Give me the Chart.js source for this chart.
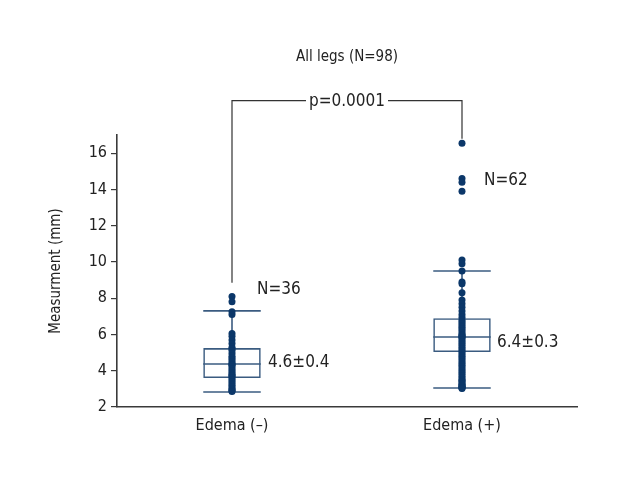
<!DOCTYPE html>
<html>
<head>
<meta charset="utf-8">
<script src="https://cdn.jsdelivr.net/npm/chart.js@4.4.0/dist/chart.umd.min.js"></script>
<style>
  html, body { margin: 0; padding: 0; background: #fff; }
</style>
</head>
<body>
<canvas id="c" width="620" height="480"></canvas>
<script>
// ===== Data =====
const categories = ['Edema (\u2013)', 'Edema (+)'];
const yTicks = [2, 4, 6, 8, 10, 12, 14, 16];

// box stats per category
const q1Values      = [3.6, 5.03];
const medianValues  = [4.37, 5.86];
const q3Values      = [5.25, 6.9];
const whiskerLow    = [2.83, 3.05];
const whiskerHigh   = [7.3, 9.5];

// individual measurements
const edemaNeg = [8.1, 7.8, 7.25, 7.1, 6.05, 5.9, 5.7, 5.5, 5.3, 5.2, 5.1, 4.95,
                  4.8, 4.7, 4.6, 4.5, 4.4, 4.35, 4.3, 4.2, 4.1, 4.0, 3.9, 3.8,
                  3.75, 3.7, 3.6, 3.5, 3.4, 3.3, 3.2, 3.1, 3.0, 2.95, 2.9, 2.85];
const edemaPos = [16.55, 14.6, 14.4, 13.9, 10.1, 9.9, 9.5, 8.9, 8.8, 8.3, 7.9, 7.7,
                  7.5, 7.3, 7.1, 6.95, 6.8, 6.7, 6.6, 6.5, 6.4, 6.3, 6.2, 6.1,
                  6.0, 5.95, 5.9, 5.85, 5.8, 5.7, 5.6, 5.5, 5.4, 5.3, 5.2, 5.1,
                  5.0, 4.9, 4.8, 4.7, 4.6, 4.5, 4.4, 4.3, 4.2, 4.1, 4.0, 3.9,
                  3.8, 3.7, 3.6, 3.5, 3.45, 3.4, 3.3, 3.25, 3.2, 3.15, 3.1, 3.08,
                  3.05, 3.02];

const countLabels = ['N=36', 'N=62'];
const countAt     = [8.45, 14.5];
const countDx     = [25, 22];
const meanLabels  = ['4.6\u00b10.4', '6.4\u00b10.3'];
const meanAt      = [4.43, 5.58];
const meanDx      = [36, 35];
const pLabel      = 'p=0.0001';
const titleText   = 'All legs (N=98)';

// ===== Style =====
const FONT = "'Liberation Sans Narrow', 'DejaVu Sans Condensed', sans-serif";
const AXIS = '#3a3a3a';
const BOX  = '#3a5b80';
const DOT  = '#0b3769';

// ===== Box / annotation plugin =====
const boxPlugin = {
  id: 'boxExtras',
  beforeDatasetsDraw(chart) {
    const { ctx } = chart;
    const y = chart.scales.y;
    const bars = chart.getDatasetMeta(1).data;
    ctx.save();
    ctx.strokeStyle = BOX;
    ctx.lineWidth = 1.6;
    bars.forEach((bar, i) => {
      const l = bar.x - bar.width / 2, r = bar.x + bar.width / 2;
      const line = (x1, y1, x2, y2) => { ctx.beginPath(); ctx.moveTo(x1, y1); ctx.lineTo(x2, y2); ctx.stroke(); };
      line(l, y.getPixelForValue(medianValues[i]), r, y.getPixelForValue(medianValues[i]));
      line(l, y.getPixelForValue(whiskerHigh[i]), r, y.getPixelForValue(whiskerHigh[i]));
      line(l, y.getPixelForValue(whiskerLow[i]), r, y.getPixelForValue(whiskerLow[i]));
      line(bar.x, y.getPixelForValue(q3Values[i]), bar.x, y.getPixelForValue(whiskerHigh[i]));
      line(bar.x, y.getPixelForValue(q1Values[i]), bar.x, y.getPixelForValue(whiskerLow[i]));
    });
    ctx.restore();
  },
  afterDraw(chart) {
    const { ctx } = chart;
    const x = chart.scales.x, y = chart.scales.y;
    const xs = categories.map((c, i) => x.getPixelForValue(i));
    ctx.save();
    ctx.fillStyle = '#222';
    ctx.textBaseline = 'middle';

    // title
    ctx.font = '15px ' + FONT;
    ctx.textAlign = 'center';
    const mid = (chart.chartArea.left + chart.chartArea.right) / 2;
    ctx.fillText(titleText, mid, 57);

    // significance bracket
    const topY = y.getPixelForValue(18.9);
    ctx.strokeStyle = '#333';
    ctx.lineWidth = 1.2;
    ctx.font = '17px ' + FONT;
    const tw = ctx.measureText(pLabel).width;
    ctx.beginPath();
    ctx.moveTo(xs[0], y.getPixelForValue(8.85));
    ctx.lineTo(xs[0], topY);
    ctx.lineTo(mid - tw / 2 - 3, topY);
    ctx.moveTo(mid + tw / 2 + 3, topY);
    ctx.lineTo(xs[1], topY);
    ctx.lineTo(xs[1], y.getPixelForValue(16.8));
    ctx.stroke();
    ctx.fillText(pLabel, mid, topY + 1);

    // counts and means
    ctx.textAlign = 'left';
    ctx.font = '17px ' + FONT;
    xs.forEach((cx, i) => {
      ctx.fillText(countLabels[i], cx + countDx[i], y.getPixelForValue(countAt[i]));
      ctx.fillText(meanLabels[i], cx + meanDx[i], y.getPixelForValue(meanAt[i]));
    });
    ctx.restore();
  }
};

// ===== Chart =====
new Chart(document.getElementById('c'), {
  type: 'bar',
  data: {
    labels: categories,
    datasets: [
      {
        type: 'line',
        showLine: false,
        order: 0,
        data: [
          ...edemaNeg.map(v => ({ x: categories[0], y: v })),
          ...edemaPos.map(v => ({ x: categories[1], y: v })),
        ],
        pointRadius: 3.5,
        pointBackgroundColor: DOT,
        pointBorderWidth: 0,
      },
      {
        type: 'bar',
        order: 1,
        data: categories.map((c, i) => [q1Values[i], q3Values[i]]),
        backgroundColor: 'rgba(0,0,0,0)',
        borderColor: BOX,
        borderWidth: 1.6,
        borderSkipped: false,
        categoryPercentage: 1,
        barPercentage: 0.25,
      },
    ],
  },
  options: {
    responsive: false,
    animation: false,
    events: [],
    layout: { padding: { top: 135, right: 43, left: 0, bottom: 0 } },
    plugins: { legend: { display: false }, tooltip: { enabled: false }, title: { display: false } },
    scales: {
      x: {
        offset: true,
        grid: { display: false, drawTicks: false },
        border: { display: true, color: AXIS, width: 1.6 },
        ticks: { color: '#222', font: { family: FONT, size: 16 }, padding: 9 },
        afterFit: s => { s.height = 73; },
      },
      y: {
        min: 2,
        max: 17,
        grid: { display: true, drawOnChartArea: false, drawTicks: true, tickLength: 6, color: AXIS, lineWidth: 1.2 },
        border: { display: true, color: AXIS, width: 1.6 },
        ticks: {
          stepSize: 2,
          includeBounds: false,
          color: '#222',
          padding: 4,
          font: { family: FONT, size: 16 },
        },
        afterBuildTicks: s => { s.ticks = yTicks.map(v => ({ value: v })); },
        title: {
          display: true,
          text: 'Measurment (mm)',
          color: '#222',
          font: { family: FONT, size: 15 },
          padding: { top: 47, bottom: 0 },
        },
        afterFit: s => { s.width = 117; },
      },
    },
  },
  plugins: [boxPlugin],
});
</script>
</body>
</html>
